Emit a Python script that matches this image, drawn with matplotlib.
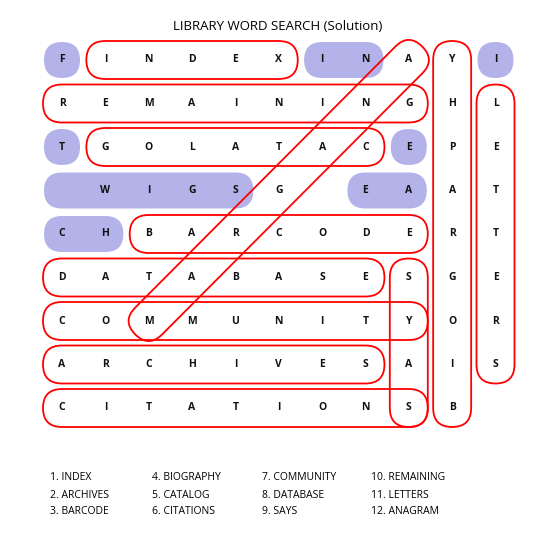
import matplotlib
matplotlib.use("Agg")
import matplotlib.pyplot as plt
from matplotlib.patches import FancyBboxPatch
from matplotlib.transforms import Affine2D
import numpy as np

grid = [
    "FINDEXINAYI",
    "REMAININGHL",
    "TGOLATACEPE",
    " WIGSG EAAT",
    "CHBARCODERT",
    "DATABASESGE",
    "COMMUNITYOR",
    "ARCHIVESAIS",
    "CITATIONSB ",
]
# words: (row0, col0, row1, col1)
words = [(0,1,0,5),(1,0,1,8),(2,1,2,7),(4,2,4,8),(5,0,5,7),(6,0,6,8),
         (7,0,7,7),(8,0,8,8),(5,8,8,8),(0,9,8,9),(1,10,7,10),(0,8,6,2)]
blue = [(0,0,0,0),(0,6,0,7),(0,10,0,10),(2,0,2,0),(2,8,2,8),
        (3,0,3,4),(3,7,3,8),(4,0,4,1)]
word_list = ["1. INDEX","2. ARCHIVES","3. BARCODE","4. BIOGRAPHY","5. CATALOG","6. CITATIONS",
             "7. COMMUNITY","8. DATABASE","9. SAYS","10. REMAINING","11. LETTERS","12. ANAGRAM"]

X0, DX, Y0, DY = 62, 43.35, 60, 43.5
fig = plt.figure(figsize=(5.48,5.37), dpi=100)
ax = fig.add_axes([0,0,1,1])
ax.set_xlim(0,548); ax.set_ylim(537,0); ax.axis("off")

def cx(c): return X0 + DX*c
def cy(r): return Y0 + DY*r

def capsule(r0,c0,r1,c1, h, **kw):
    x0,y0,x1,y1 = cx(c0),cy(r0),cx(c1),cy(r1)
    L = np.hypot(x1-x0, y1-y0)
    ang = np.degrees(np.arctan2(y1-y0, x1-x0))
    w = L + h
    p = FancyBboxPatch((x0-h/2, y0-h/2), w, h,
                       boxstyle=f"round,pad=0,rounding_size={h/2}", **kw)
    p.set_transform(Affine2D().rotate_deg_around(x0, y0, ang) + ax.transData)
    ax.add_patch(p)

for b in blue:
    capsule(*b, 36, facecolor="#b3b3ea", edgecolor="none", zorder=1)
for w in words:
    capsule(*w, 38, facecolor="none", edgecolor="red", lw=1.3, zorder=3)

for r,row in enumerate(grid):
    for c,ch in enumerate(row):
        if ch != " ":
            ax.text(cx(c), cy(r), ch, ha="center", va="center", fontsize=7.5,
                    fontweight="bold", family="Open Sans", color="#111111", zorder=2)

ax.text(278, 27, "LIBRARY WORD SEARCH (Solution)", ha="center", va="center",
        fontsize=9.5, family="Open Sans")
colx = [50, 152, 262, 371]
rowy = [477, 496, 512]
for i,t in enumerate(word_list):
    ax.text(colx[i//3], rowy[i%3], t, ha="left", va="center", fontsize=7.5, family="Open Sans")
fig.savefig("out.png", dpi=100)
